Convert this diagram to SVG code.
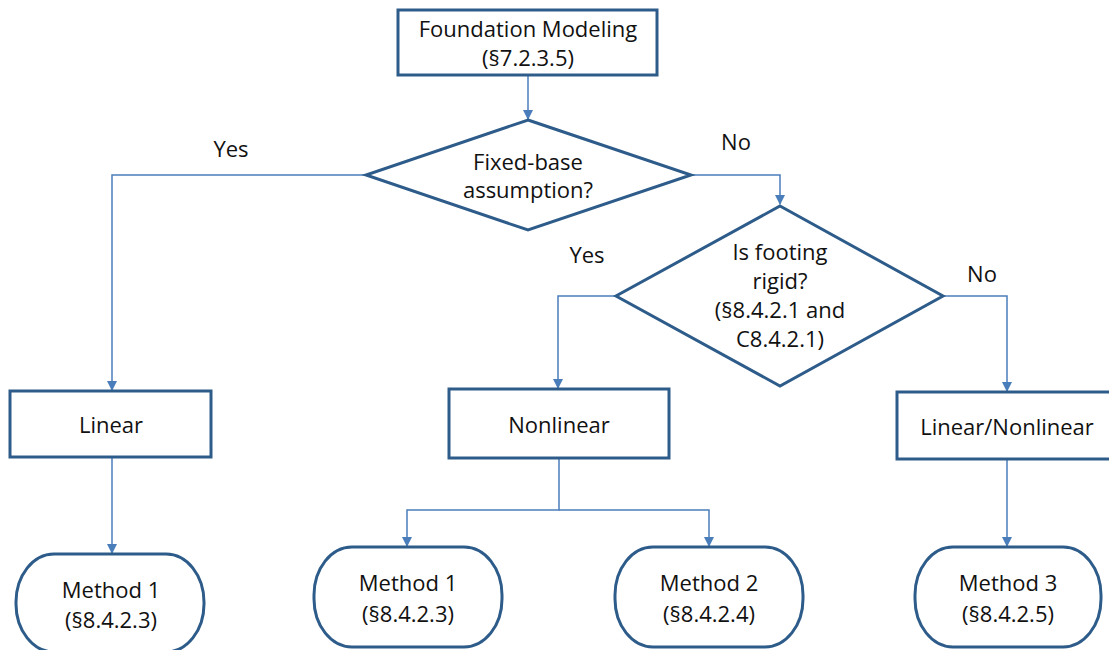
<svg xmlns="http://www.w3.org/2000/svg" width="1109" height="650" viewBox="0 0 1109 650">
<style>
.node{fill:#fff;stroke:#2E5C8A;stroke-width:3}
.t{font-family:"Open Sans","Liberation Sans",sans-serif;font-size:22px;fill:#111;text-anchor:middle}
.c{fill:none;stroke:#4A7EBB;stroke-width:1.5}
</style>
<defs>
<marker id="ah" markerWidth="10" markerHeight="10" refX="9" refY="5" orient="auto" markerUnits="userSpaceOnUse">
<path d="M0,0 L10,5 L0,10 Z" fill="#4A7EBB"/>
</marker>
</defs>
<rect width="1109" height="650" fill="#fff"/>
<g id="connectors">
<path class="c" d="M528,75 V119" marker-end="url(#ah)"/>
<path class="c" d="M366,175 H112 V390" marker-end="url(#ah)"/>
<path class="c" d="M691,175 H780 V204" marker-end="url(#ah)"/>
<path class="c" d="M616,296 H558 V388" marker-end="url(#ah)"/>
<path class="c" d="M943,296 H1007 V391" marker-end="url(#ah)"/>
<path class="c" d="M112,457 V553" marker-end="url(#ah)"/>
<path class="c" d="M559,458 V510 H407 V546" marker-end="url(#ah)"/>
<path class="c" d="M559,510 H709 V546" marker-end="url(#ah)"/>
<path class="c" d="M1007,459 V546" marker-end="url(#ah)"/>
<text class="t" x="231" y="157">Yes</text>
<text class="t" x="736" y="150">No</text>
<text class="t" x="587" y="263">Yes</text>
<text class="t" x="982" y="282">No</text>
</g>
<g id="n-foundation">
<rect class="node" x="398" y="10" width="259" height="65"/>
<text class="t" x="528" y="37">Foundation Modeling</text>
<text class="t" x="528" y="66">(§7.2.3.5)</text>
</g>
<g id="n-fixed">
<polygon class="node" points="528,120 691,175 528,230 366,175"/>
<text class="t" x="528" y="170">Fixed-base</text>
<text class="t" x="528" y="198">assumption?</text>
</g>
<g id="n-rigid">
<polygon class="node" points="780,206 943,296 780,386 616,296"/>
<text class="t" x="780" y="260">Is footing</text>
<text class="t" x="780" y="289">rigid?</text>
<text class="t" x="780" y="318">(§8.4.2.1 and</text>
<text class="t" x="780" y="347">C8.4.2.1)</text>
</g>
<g id="n-linear">
<rect class="node" x="10" y="391" width="201" height="66"/>
<text class="t" x="111" y="433">Linear</text>
</g>
<g id="n-nonlinear">
<rect class="node" x="449" y="389" width="220" height="69"/>
<text class="t" x="559" y="433">Nonlinear</text>
</g>
<g id="n-linnon">
<rect class="node" x="897" y="392" width="220" height="67"/>
<text class="t" x="1007" y="435">Linear/Nonlinear</text>
</g>
<g id="n-m1a">
<rect class="node" x="16" y="554" width="188" height="98" rx="38" ry="48"/>
<text class="t" x="111" y="598">Method 1</text>
<text class="t" x="111" y="628">(§8.4.2.3)</text>
</g>
<g id="n-m1b">
<rect class="node" x="314" y="547" width="188" height="100" rx="38" ry="48"/>
<text class="t" x="408" y="591">Method 1</text>
<text class="t" x="408" y="622">(§8.4.2.3)</text>
</g>
<g id="n-m2">
<rect class="node" x="615" y="547" width="188" height="100" rx="38" ry="48"/>
<text class="t" x="709" y="591">Method 2</text>
<text class="t" x="709" y="622">(§8.4.2.4)</text>
</g>
<g id="n-m3">
<rect class="node" x="915" y="547" width="186" height="100" rx="38" ry="48"/>
<text class="t" x="1008" y="591">Method 3</text>
<text class="t" x="1008" y="622">(§8.4.2.5)</text>
</g>
</svg>
